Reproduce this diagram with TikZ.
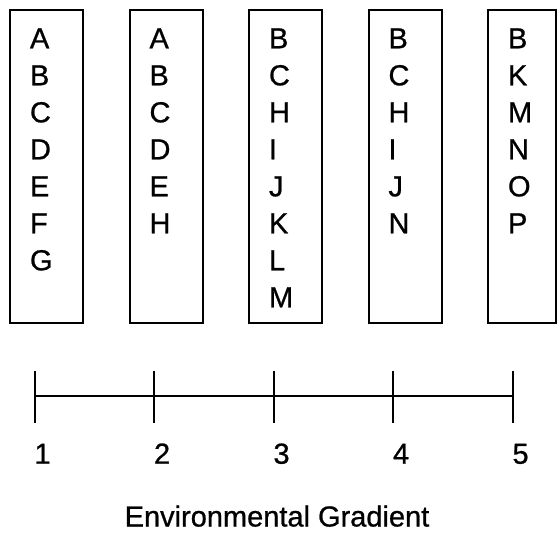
\documentclass[tikz,border=0pt]{standalone}
\usepackage{fontspec}
\setmainfont{Liberation Sans}[FakeBold=0.8]

\begin{document}
\begin{tikzpicture}[x=0.75pt,y=-0.75pt,line width=1.5pt]
  \tikzstyle{every node}=[inner sep=0pt,font=\fontsize{21.75}{26}\selectfont]
  \tikzstyle{site}=[draw,anchor=north west,minimum width=54.75pt,minimum height=234.75pt]
  \tikzstyle{species}=[anchor=base west]
  \useasboundingbox (0,0) rectangle (557,533);
  % sites along the gradient
  \node [site] (site1) at (9,9) {};
  \node [site] (site2) at (128.5,9) {};
  \node [site] (site3) at (248,9) {};
  \node [site] (site4) at (367.5,9) {};
  \node [site,minimum width=51pt] (site5) at (487,9) {};
  \foreach \col [count=\i] in {{A,B,C,D,E,F,G},{A,B,C,D,E,H},{B,C,H,I,J,K,L,M},{B,C,H,I,J,N},{B,K,M,N,O,P}}
    \foreach \s [count=\j] in \col
      \node [species] (s\i-\j) at ({29+119.5*(\i-1)},{48.3+37*(\j-1)}) {\s};
  % gradient axis
  \foreach \i in {1,...,5} {
    \coordinate (top\i) at ({34.5+119.5*(\i-1)},371);
    \coordinate (bot\i) at ({34.5+119.5*(\i-1)},423);
    \coordinate (mid\i) at ({34.5+119.5*(\i-1)},395.5);
    \draw (top\i) -- (bot\i);
    \node [anchor=base west] (n\i) at ({33.5+119.5*(\i-1)},463.7) {\i};
  }
  \draw (mid1) -- (mid5);
  \node [anchor=base] (gradient) at (277,526.5) {Environmental Gradient};
\end{tikzpicture}
\end{document}
